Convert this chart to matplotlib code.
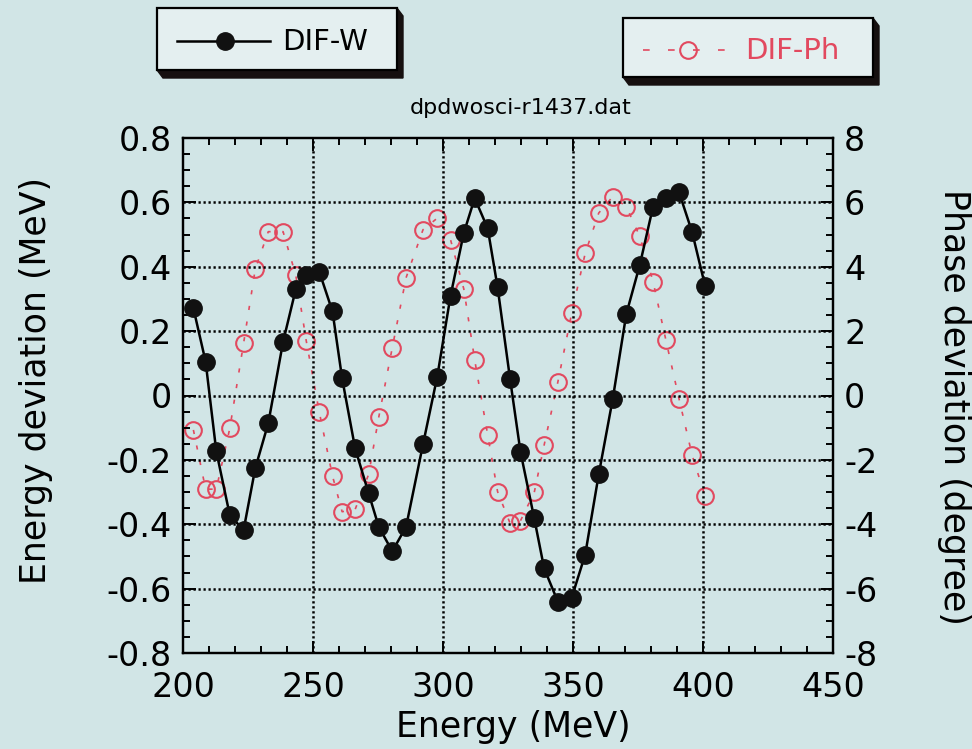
import matplotlib
matplotlib.use("Agg")
import matplotlib.pyplot as plt
import matplotlib.transforms as mtransforms
from matplotlib.patches import Polygon
from matplotlib.lines import Line2D
from matplotlib.ticker import MultipleLocator, FixedLocator, FixedFormatter

# Beam energy (MeV) and measured deviations
energy = [204.0, 208.7, 212.8, 218.0, 223.3, 227.8, 232.8, 238.5, 243.4, 247.4,
          252.4, 257.5, 261.2, 266.2, 271.4, 275.3, 280.5, 285.8, 292.3, 297.8,
          302.9, 308.0, 312.2, 317.2, 321.0, 325.8, 329.8, 335.1, 338.9, 344.2,
          349.5, 354.7, 359.9, 365.3, 370.5, 375.7, 380.8, 385.7, 390.8, 395.8, 400.8]

dif_w = [0.271, 0.105, -0.173, -0.372, -0.418, -0.226, -0.086, 0.167, 0.331, 0.373,
         0.385, 0.261, 0.053, -0.164, -0.304, -0.408, -0.484, -0.408, -0.152, 0.059,
         0.310, 0.505, 0.613, 0.519, 0.336, 0.051, -0.175, -0.382, -0.537, -0.641,
         -0.628, -0.494, -0.245, -0.010, 0.253, 0.406, 0.587, 0.615, 0.631, 0.508, 0.341]

dif_ph = [-1.07, -2.91, -2.91, -1.02, 1.62, 3.93, 5.09, 5.09, 3.73, 1.70,
          -0.51, -2.50, -3.61, -3.54, -2.45, -0.67, 1.49, 3.66, 5.15, 5.51,
          4.84, 3.31, 1.10, -1.23, -2.99, -3.97, -3.89, -3.01, -1.54, 0.43,
          2.56, 4.42, 5.67, 6.18, 5.87, 4.94, 3.54, 1.73, -0.11, -1.85, -3.13]

x_ticks = [200, 250, 300, 350, 400, 450]
x_tick_labels = ["200", "250", "300", "350", "400", "450"]
y_ticks = [-0.8, -0.6, -0.4, -0.2, 0.0, 0.2, 0.4, 0.6, 0.8]
y_tick_labels = ["-0.8", "-0.6", "-0.4", "-0.2", "0", "0.2", "0.4", "0.6", "0.8"]
ph_ticks = [-8, -6, -4, -2, 0, 2, 4, 6, 8]
ph_tick_labels = ["-8", "-6", "-4", "-2", "0", "2", "4", "6", "8"]

title = "dpdwosci-r1437.dat"
label_w = "DIF-W"
label_ph = "DIF-Ph"

BG = "#d1e5e6"
BOX = "#e4eff0"
RED = "#e2495f"
W, H = 972, 749

plt.rcParams["font.family"] = ["DejaVu Sans"]

fig = plt.figure(figsize=(W / 100, H / 100), dpi=100, facecolor=BG)
px = mtransforms.Affine2D().scale(1 / W, -1 / H).translate(0, 1) + fig.transFigure

ax = fig.add_axes([183 / W, 1 - 653 / H, 650 / W, 515 / H])
ax.set_facecolor(BG)
ax2 = ax.twinx()

# dotted grid
grid_kw = dict(color="black", lw=1.8, linestyle=(0, (0.9, 1.1)), zorder=1)
for gx in x_ticks[1:-1]:
    ax.axvline(gx, **grid_kw)
for gy in y_ticks[1:-1]:
    ax.axhline(gy, **grid_kw)

# data
ax2.plot(energy, dif_ph, color=RED, lw=1.2, linestyle=(0, (2.5, 7)),
         marker="o", ms=12, mfc="none", mec=RED, mew=1.5, zorder=3)
ax.plot(energy, dif_w, color="black", lw=1.8, marker="o", ms=12.5,
        mfc="#111111", mec="#111111", zorder=4)
ax.set_zorder(ax2.get_zorder() + 1)
ax.patch.set_visible(False)

ax.set_xlim(200, 450)
ax.set_ylim(-0.8, 0.8)
ax2.set_ylim(-8, 8)

ax.xaxis.set_major_locator(FixedLocator(x_ticks))
ax.xaxis.set_major_formatter(FixedFormatter(x_tick_labels))
ax.xaxis.set_minor_locator(MultipleLocator(10))
ax.yaxis.set_major_locator(FixedLocator(y_ticks))
ax.yaxis.set_major_formatter(FixedFormatter(y_tick_labels))
ax.yaxis.set_minor_locator(MultipleLocator(0.05))
ax2.yaxis.set_major_locator(FixedLocator(ph_ticks))
ax2.yaxis.set_major_formatter(FixedFormatter(ph_tick_labels))
ax2.yaxis.set_minor_locator(MultipleLocator(0.5))

for a in (ax, ax2):
    for s in a.spines.values():
        s.set_linewidth(1.6)
        s.set_color("black")

ax.tick_params(axis="both", which="both", direction="in", top=True, right=False,
               width=1.4, colors="black")
ax.tick_params(which="major", length=9, labelsize=24)
ax.tick_params(axis="y", which="major", pad=8)
ax.tick_params(axis="x", which="major", pad=13)
ax.tick_params(which="minor", length=5)
ax2.tick_params(axis="y", which="both", direction="in", width=1.4)
ax2.tick_params(which="major", length=9, labelsize=24, pad=8)
ax2.tick_params(which="minor", length=5)

# axis titles
fig.text(513 / W, 1 - 727 / H, "Energy (MeV)", fontsize=25, ha="center", va="center")
fig.text(36 / W, 1 - 381 / H, "Energy deviation (MeV)", fontsize=25,
         ha="center", va="center", rotation=90)
fig.text(954 / W, 1 - 407 / H, "Phase deviation (degree)", fontsize=25,
         ha="center", va="center", rotation=-90)
fig.text(521 / W, 1 - 108 / H, title, fontsize=16, ha="center", va="center")


def box3d(x0, y0, x1, y1, dx, dy):
    front = Polygon([(x0, y0), (x1, y0), (x1, y1), (x0, y1)], closed=True,
                    transform=px, facecolor=BOX, edgecolor="black", lw=1.6, zorder=5)
    side = Polygon([(x0, y1), (x1, y1), (x1, y0), (x1 + dx, y0 + dy),
                    (x1 + dx, y1 + dy), (x0 + dx, y1 + dy)], closed=True,
                   transform=px, facecolor="#161010", edgecolor="#161010", lw=1, zorder=4)
    fig.add_artist(side)
    fig.add_artist(front)


# legend for DIF-W
box3d(157, 8, 397, 70, 6, 8)
fig.add_artist(Line2D([177, 270], [41, 41], transform=px, color="black", lw=1.8, zorder=6))
fig.add_artist(Line2D([225], [41], transform=px, marker="o", ms=12.5, mfc="#111111",
                      mec="#111111", zorder=7))
fig.text(282 / W, 1 - 42 / H, label_w, fontsize=21, ha="left", va="center", zorder=7)

# legend for DIF-Ph
box3d(623, 18, 873, 77, 6, 8)
fig.add_artist(Line2D([643, 737], [50, 50], transform=px, color=RED, lw=1.2,
                      linestyle=(0, (4, 11)), zorder=6))
fig.add_artist(Line2D([688], [50], transform=px, marker="o", ms=12, mfc="none",
                      mec=RED, mew=1.5, zorder=7))
fig.text(745 / W, 1 - 51 / H, label_ph, fontsize=21, color=RED, ha="left",
         va="center", zorder=7)

fig.savefig("out.png", dpi=100, facecolor=BG)
